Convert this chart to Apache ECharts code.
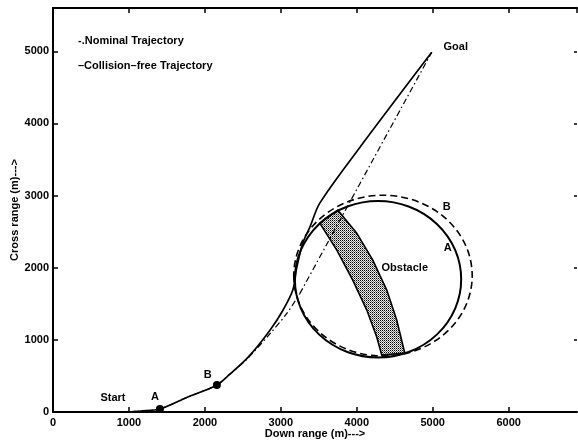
<!DOCTYPE html>
<html><head><meta charset="utf-8">
<script src="https://cdn.jsdelivr.net/npm/echarts@6/dist/echarts.min.js"></script>
<style>html,body{margin:0;padding:0;background:#fff}#c{width:578px;height:444px}</style>
</head><body><div id="c"></div>
<script>
// Collision-free trajectory (solid)
const freeX = [1000, 1150, 1408, 1760, 2158, 2329, 2570, 2855, 3026, 3158, 3211, 3289, 3382, 3513, 4013, 4987];
const freeY = [0, 14, 41, 200, 374, 524, 760, 1131, 1407, 1690, 2008, 2341, 2562, 2895, 3629, 4986];
// Nominal trajectory (dash-dot): curved part, then straight leg to goal
const nomCurveX = [1000, 1150, 1408, 1760, 2158, 2329, 2570, 2870, 3079, 3250];
const nomCurveY = [0, 14, 41, 200, 374, 524, 750, 1100, 1366, 1641];
const nomLegX = [3250, 4987];
const nomLegY = [1641, 4986];
// Way points A and B
const wayX = [1408, 2158];
const wayY = [41, 374];
// Obstacle circles: solid (A) and dashed (B): centre and radii
const circCX = [4280, 4345];
const circCY = [1840, 1890];
const circRX = [1095, 1175];
const circRY = [1085, 1115];
// Shaded band edges
const bandLeftX = [3513, 3737, 3947, 4132, 4263, 4329];
const bandLeftY = [2618, 2244, 1828, 1413, 1039, 789];
const bandRightX = [3750, 4000, 4211, 4395, 4526, 4632];
const bandRightY = [2798, 2479, 2105, 1690, 1274, 817];
// Annotations
const noteText = ['Start', 'A', 'B', 'Goal', 'Obstacle', 'B', 'A'];
const noteX = [789, 1342, 2039, 5303, 4632, 5184, 5197];
const noteY = [194, 208, 512, 5055, 1994, 2839, 2271];
const legendLines = ['-.Nominal Trajectory', '\u2013Collision\u2013free Trajectory'];

const zip = (a, b) => a.map((v, i) => [v, b[i]]);
const FONT = '"Liberation Sans", Arial, sans-serif';

const pc = document.createElement('canvas');
pc.width = 2; pc.height = 2;
const g = pc.getContext('2d');
g.fillStyle = '#e6e6e6'; g.fillRect(0, 0, 2, 2);
g.fillStyle = '#000'; g.fillRect(0, 0, 1, 1);
g.fillStyle = '#777'; g.fillRect(1, 1, 1, 1);

function ellipseItem(style) {
  return function (params, api) {
    const c = api.coord([api.value(0), api.value(1)]);
    const s = api.size([api.value(2), api.value(3)]);
    const rx = s[0], ry = s[1];
    const d = `M${c[0] - rx} ${c[1]} A${rx} ${ry} 0 1 0 ${c[0] + rx} ${c[1]} A${rx} ${ry} 0 1 0 ${c[0] - rx} ${c[1]} Z`;
    return { type: 'path', shape: { pathData: d }, style: Object.assign({ fill: 'none', stroke: '#000' }, style) };
  };
}

const axisLbl = { color: '#000', fontFamily: FONT, fontWeight: 'bold', fontSize: 11, formatter: v => String(v) };
const chart = echarts.init(document.getElementById('c'), null, { renderer: 'canvas' });
chart.setOption({
  animation: false,
  backgroundColor: '#fff',
  grid: { left: 53, right: 1, top: 8, bottom: 32, containLabel: false, outerBoundsMode: 'none' },
  xAxis: [{
    type: 'value', min: 0, max: 6900, interval: 1000, position: 'bottom',
    axisLine: { onZero: false, lineStyle: { color: '#000', width: 2 } },
    axisTick: { inside: true, length: 5, lineStyle: { color: '#000', width: 1.5 } },
    axisLabel: Object.assign({ margin: 5, showMaxLabel: false }, axisLbl),
    splitLine: { show: false },
    name: 'Down range (m)--->', nameLocation: 'middle', nameGap: 16, nameMoveOverlap: false,
    nameTextStyle: { color: '#000', fontFamily: FONT, fontWeight: 'bold', fontSize: 11 }
  }, {
    type: 'value', min: 0, max: 6900, interval: 1000, position: 'top',
    axisLine: { show: true, onZero: false, lineStyle: { color: '#000', width: 2 } },
    axisTick: { inside: true, length: 5, lineStyle: { color: '#000', width: 1.5 } },
    axisLabel: { show: false }, splitLine: { show: false }
  }],
  yAxis: [{
    type: 'value', min: 0, max: 5600, interval: 1000, position: 'left',
    axisLine: { show: true, onZero: false, lineStyle: { color: '#000', width: 2 } },
    axisTick: { show: true, inside: true, length: 5, lineStyle: { color: '#000', width: 1.5 } },
    axisLabel: Object.assign({ margin: 4, showMaxLabel: false }, axisLbl),
    splitLine: { show: false },
    name: 'Cross range (m)--->', nameLocation: 'middle', nameGap: 33, nameMoveOverlap: false,
    nameTextStyle: { color: '#000', fontFamily: FONT, fontWeight: 'bold', fontSize: 11 }
  }, {
    type: 'value', min: 0, max: 5600, interval: 1000, position: 'right',
    axisLine: { show: false, onZero: false },
    axisTick: { show: true, inside: true, length: 3, lineStyle: { color: '#000', width: 1.5 } },
    axisLabel: { show: false }, splitLine: { show: false }
  }],
  graphic: legendLines.map((t, i) => ({
    type: 'text', left: 78, top: 35 + i * 25,
    style: { text: t, fill: '#000', font: `bold 11px ${FONT}` }
  })),
  series: [
    {
      type: 'custom', coordinateSystem: 'cartesian2d', xAxisIndex: 0, yAxisIndex: 0,
      data: [[bandLeftX[0], bandLeftY[0]]], encode: { x: 0, y: 1 }, z: 1,
      renderItem: function (params, api) {
        const pts = zip(bandLeftX, bandLeftY).concat(zip(bandRightX, bandRightY).reverse()).map(p => api.coord(p));
        return { type: 'polygon', shape: { points: pts },
          style: { fill: { image: pc, repeat: 'repeat' }, stroke: '#000', lineWidth: 1.6 } };
      }
    },
    {
      type: 'custom', coordinateSystem: 'cartesian2d', z: 2,
      data: [[circCX[0], circCY[0], circRX[0], circRY[0]]], encode: { x: 0, y: 1 },
      renderItem: ellipseItem({ lineWidth: 2 })
    },
    {
      type: 'custom', coordinateSystem: 'cartesian2d', z: 2,
      data: [[circCX[1], circCY[1], circRX[1], circRY[1]]], encode: { x: 0, y: 1 },
      renderItem: ellipseItem({ lineWidth: 1.6, lineDash: [7, 4] })
    },
    {
      type: 'line', data: zip(freeX, freeY), showSymbol: false, smooth: 0.3, z: 3,
      lineStyle: { color: '#000', width: 1.7 }
    },
    {
      type: 'line', data: zip(nomCurveX, nomCurveY), showSymbol: false, smooth: 0.3, z: 3,
      lineStyle: { color: '#000', width: 1.2, type: [6, 3, 1.5, 3] }
    },
    {
      type: 'line', data: zip(nomLegX, nomLegY), showSymbol: false, z: 3,
      lineStyle: { color: '#000', width: 1.2, type: [6, 3, 1.5, 3] }
    },
    {
      type: 'scatter', data: zip(wayX, wayY), symbol: 'circle', symbolSize: 8, z: 4,
      itemStyle: { color: '#000', opacity: 1 }
    },
    {
      type: 'scatter', data: noteX.map((x, i) => [x, noteY[i], noteText[i]]), symbolSize: 0, z: 5,
      itemStyle: { opacity: 1 },
      label: { show: true, position: 'inside', formatter: p => p.value[2], textBorderWidth: 0,
        color: '#000', fontFamily: FONT, fontWeight: 'bold', fontSize: 11 }
    }
  ]
});
</script></body></html>
